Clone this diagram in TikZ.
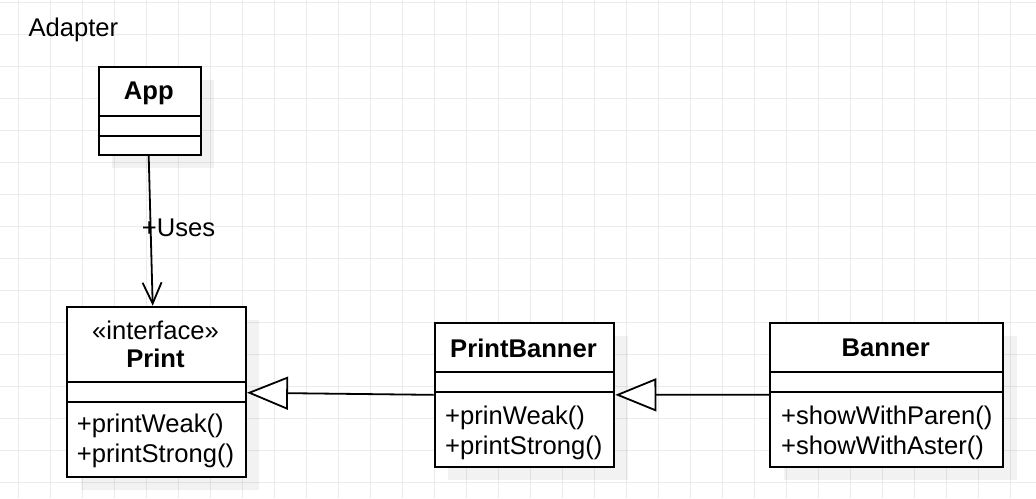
\documentclass[tikz,border=0pt]{standalone}
\usepackage{fontspec}
\setmainfont{Liberation Sans}
\usetikzlibrary{arrows.meta,calc}
\definecolor{gridc}{HTML}{EBEBEB}
\begin{document}
\begin{tikzpicture}[x=1pt,y=-1pt,
  box/.style={draw=black, line width=2pt, fill=white, rectangle, inner sep=0pt, anchor=north west},
  shad/.style={fill=black, fill opacity=0.05, draw=none},
  txt/.style={inner sep=0pt, font=\fontsize{25.6}{30}\selectfont},
  ttl/.style={inner sep=0pt, font=\fontsize{25.6}{30}\selectfont\bfseries},
  div/.style={line width=2pt},
  edge/.style={line width=1.8pt}]
\useasboundingbox (0,0) rectangle (1036,498);
\fill[white] (0,0) rectangle (1036,498);
% grid
\foreach \i in {0,...,31} \draw[gridc, line width=1pt] ({18.3+32*\i},0) -- ({18.3+32*\i},498);
\foreach \j in {0,...,15} \draw[gridc, line width=1pt] (0,{2.3+32*\j}) -- (1036,{2.3+32*\j});
% shadows
\fill[shad] (111.7,79.7) rectangle (214,168);
\fill[shad] (80.7,320) rectangle (259,490);
\fill[shad] (448,336) rectangle (627.5,480);
\fill[shad] (783.5,336) rectangle (1016.5,480);
% boxes
\node[box, minimum width=102.3pt, minimum height=88.3pt] (app) at (97.7,65.7) {};
\node[box, minimum width=179pt, minimum height=170pt] (print) at (66,305.7) {};
\node[box, minimum width=179.6pt, minimum height=143.7pt] (pb) at (433.7,322) {};
\node[box, minimum width=233pt, minimum height=144pt] (banner) at (769.3,321.7) {};
% dividers
\draw[div] ($(app.north west)+(0,50.3)$) -- ($(app.north east)+(0,50.3)$);
\draw[div] ($(app.north west)+(0,70)$) -- ($(app.north east)+(0,70)$);
\draw[div] ($(print.north west)+(0,76)$) -- ($(print.north east)+(0,76)$);
\draw[div] ($(print.north west)+(0,96)$) -- ($(print.north east)+(0,96)$);
\draw[div] ($(pb.north west)+(0,49.7)$) -- ($(pb.north east)+(0,49.7)$);
\draw[div] ($(pb.north west)+(0,69.7)$) -- ($(pb.north east)+(0,69.7)$);
\draw[div] ($(banner.north west)+(0,50)$) -- ($(banner.north east)+(0,50)$);
\draw[div] ($(banner.north west)+(0,70)$) -- ($(banner.north east)+(0,70)$);
% texts
\node[txt, anchor=west] (title) at (28.3,30) {Adapter};
\node[ttl] (appT) at (148.85,93) {App};
\node[txt] (printS) at (155.5,330) {«interface»};
\node[ttl] (printT) at (155.5,358.5) {Print};
\node[txt, anchor=west] (printM1) at (76.7,426) {+printWeak()};
\node[txt, anchor=west] (printM2) at (76.7,456) {+printStrong()};
\node[ttl] (pbT) at (523.5,348) {PrintBanner};
\node[txt, anchor=west] (pbM1) at (445,417.5) {+prinWeak()};
\node[txt, anchor=west] (pbM2) at (445,447.5) {+printStrong()};
\node[ttl] (bannerT) at (885.8,348) {Banner};
\node[txt, anchor=west] (bannerM1) at (781,417.5) {+showWithParen()};
\node[txt, anchor=west] (bannerM2) at (781,447.5) {+showWithAster()};
% edges
\draw[edge, -{Straight Barb[length=21pt,width=19pt]}] ([xshift=-1.15pt]app.south) -- ([xshift=-3.8pt]print.north);
\node[txt, anchor=west] (uses) at (141.7,228.3) {+Uses};
\draw[edge, -{Triangle[length=41pt,width=33pt,fill=white]}] (pb.west) -- ([yshift=-1pt]print.east);
\draw[edge, -{Triangle[length=41pt,width=33pt,fill=white]}] (banner.west) -- (pb.east);
\end{tikzpicture}
\end{document}
